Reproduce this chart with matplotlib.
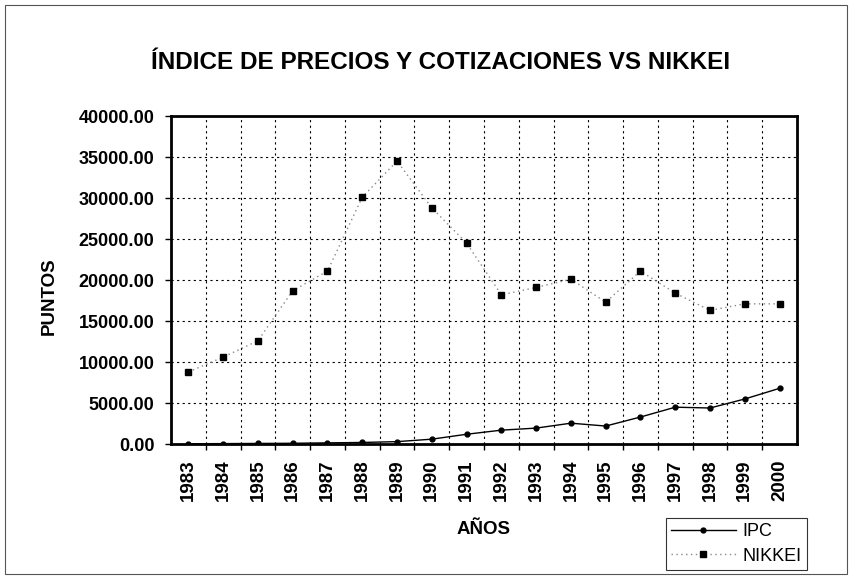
import matplotlib.pyplot as plt
from matplotlib.patches import Rectangle

plt.rcParams['font.family'] = ['Liberation Sans', 'DejaVu Sans']

years = list(range(1983, 2001))
year_labels = [str(y) for y in years]
ipc = [40, 60, 80, 100, 150, 200, 300, 600, 1200, 1700, 1950, 2550, 2200, 3300, 4500, 4400, 5500, 6800]
nikkei = [8800, 10600, 12600, 18700, 21100, 30100, 34500, 28800, 24500, 18200,
          19100, 20100, 17300, 21100, 18400, 16300, 17100, 17100]

fig = plt.figure(figsize=(8.52, 5.76), dpi=100)
ax = fig.add_axes([0.2007, 0.229, 0.7347, 0.5696])

# border around the whole chart
fig.patches.append(Rectangle((0.006, 0.004), 0.988, 0.988, transform=fig.transFigure,
                             fill=False, edgecolor='#555555', linewidth=0.8))

ax.plot(years, ipc, color='black', linewidth=1.0, marker='o', markersize=3.5, label='IPC', zorder=3)
ax.plot(years, nikkei, color='#888888', linewidth=1.0, linestyle=(0, (1, 2.5)),
        marker='s', markersize=4, markerfacecolor='black', markeredgecolor='black',
        label='NIKKEI', zorder=3)

ax.set_xlim(1982.5, 2000.5)
ax.set_ylim(0, 40000)
ax.set_xticks(years)
ax.set_xticklabels(year_labels, rotation=90, fontsize=13.5, fontweight='bold')
ax.set_xticks([y + 0.5 for y in years[:-1]], minor=True)
ax.set_yticks(range(0, 40001, 5000))
ax.set_yticklabels(['%.2f' % v for v in range(0, 40001, 5000)], fontsize=13, fontweight='bold')
ax.tick_params(axis='x', which='major', length=0, pad=11)
ax.tick_params(axis='x', which='minor', length=4, direction='out', width=1)
ax.tick_params(axis='y', length=4, direction='out', width=1, pad=8)

ax.grid(True, axis='y', which='major', color='black', linestyle=(0, (2, 3)), linewidth=0.8)
ax.grid(True, axis='x', which='minor', color='black', linestyle=(0, (2, 3)), linewidth=0.8)
ax.grid(False, axis='x', which='major')

for s in ax.spines.values():
    s.set_linewidth(2.0)

fig.text(0.517, 0.892, 'ÍNDICE DE PRECIOS Y COTIZACIONES VS NIKKEI', ha='center', va='center',
         fontsize=17.5, fontweight='bold')
fig.text(0.058, 0.486, 'PUNTOS', ha='center', va='center', rotation=90, fontsize=13.5, fontweight='bold')
fig.text(0.567, 0.08, 'AÑOS', ha='center', va='center', fontsize=13.5, fontweight='bold')

leg = fig.legend(loc='lower right', bbox_to_anchor=(0.947, 0.0104), fontsize=13, frameon=True,
                 fancybox=False, edgecolor='black', handlelength=3.6, borderpad=0.3,
                 labelspacing=0.4, handletextpad=0.35, borderaxespad=0)
leg.get_frame().set_linewidth(0.8)

fig.savefig('out.png', dpi=100)
